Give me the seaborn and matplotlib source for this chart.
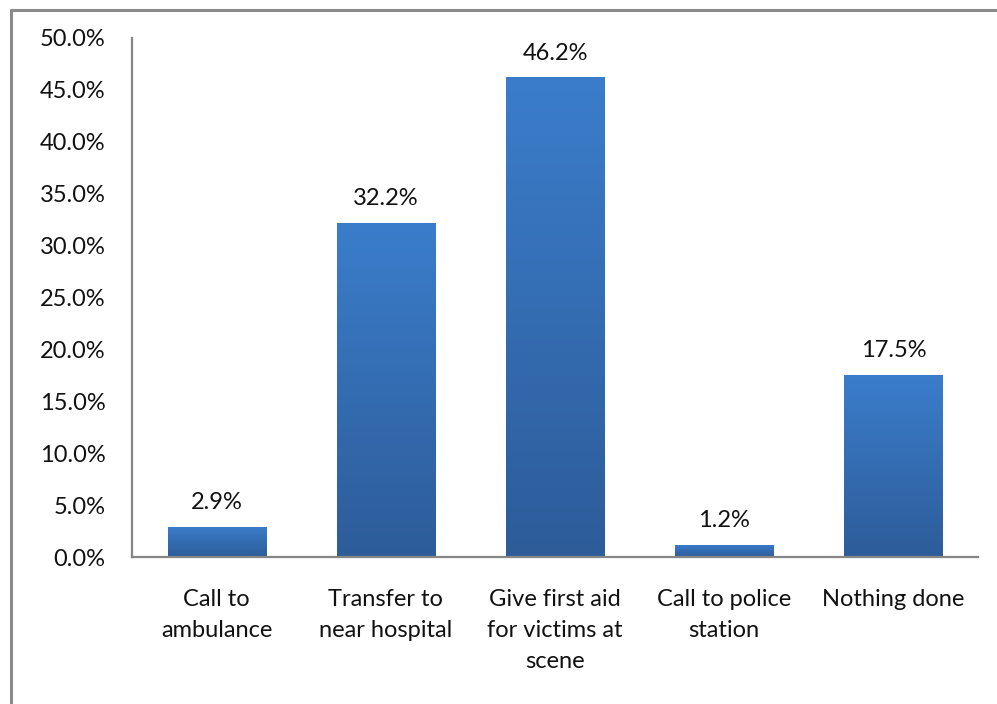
import numpy as np
import pandas as pd
import matplotlib
matplotlib.use("Agg")
import matplotlib.pyplot as plt
from matplotlib.lines import Line2D
from matplotlib.colors import LinearSegmentedColormap
import seaborn as sns

categories = [
    "Call to\nambulance",
    "Transfer to\nnear hospital",
    "Give first aid\nfor victims at\nscene",
    "Call to police\nstation",
    "Nothing done",
]
percentages = [2.9, 32.2, 46.2, 1.2, 17.5]
y_ticks = [0, 5, 10, 15, 20, 25, 30, 35, 40, 45, 50]

sns.set_theme(style="white")
plt.rcParams["font.family"] = ["Lato", "DejaVu Sans"]

df = pd.DataFrame({"action": categories, "pct": percentages})

fig = plt.figure(figsize=(9.97, 7.04), dpi=100)
ax = fig.add_axes([132 / 997, 1 - 557 / 704, (978 - 132) / 997, (557 - 38) / 704])

sns.barplot(data=df, x="action", y="pct", color="#3a7bc8", width=0.58,
            ax=ax, saturation=1)

# vertical gradient fill clipped to each bar
grad = LinearSegmentedColormap.from_list("bar", ["#2d5c99", "#3b7dcb"])
gradient = np.linspace(0, 1, 256).reshape(-1, 1)
for patch in ax.patches:
    x0, y0 = patch.get_x(), patch.get_y()
    w, h = patch.get_width(), patch.get_height()
    patch.set_edgecolor("none")
    im = ax.imshow(gradient, cmap=grad, origin="lower", aspect="auto",
                   extent=[x0, x0 + w, y0, y0 + h], zorder=patch.get_zorder() + 0.1)
    im.set_clip_path(patch)

ax.set_xlim(-0.5, len(categories) - 0.5)
ax.set_ylim(0, 50)

for i, v in enumerate(percentages):
    ax.annotate(f"{v:.1f}%", (i, v), xytext=(0, 10), textcoords="offset points",
                ha="center", va="bottom", fontsize=17, color="#111111")

ax.set_yticks(y_ticks)
ax.set_yticklabels([f"{t:.1f}%" for t in y_ticks])
ax.set_xlabel("")
ax.set_ylabel("")
ax.tick_params(axis="y", length=0, pad=19, labelsize=17, labelcolor="#111111")
ax.tick_params(axis="x", length=0, pad=23, labelsize=17, labelcolor="#111111")
for lbl in ax.get_xticklabels():
    lbl.set_linespacing(1.58)

for side in ["top", "right"]:
    ax.spines[side].set_visible(False)
for side in ["left", "bottom"]:
    ax.spines[side].set_color("#868686")
    ax.spines[side].set_linewidth(1.6)

# outer chart frame
frame_kw = dict(color="#8a8a8a", linewidth=2.2, transform=fig.transFigure)
fig.add_artist(Line2D([11 / 997, 11 / 997], [0, 1 - 10 / 704], **frame_kw))
fig.add_artist(Line2D([11 / 997, 1], [1 - 10 / 704, 1 - 10 / 704], **frame_kw))

fig.savefig("out.png", dpi=100)
